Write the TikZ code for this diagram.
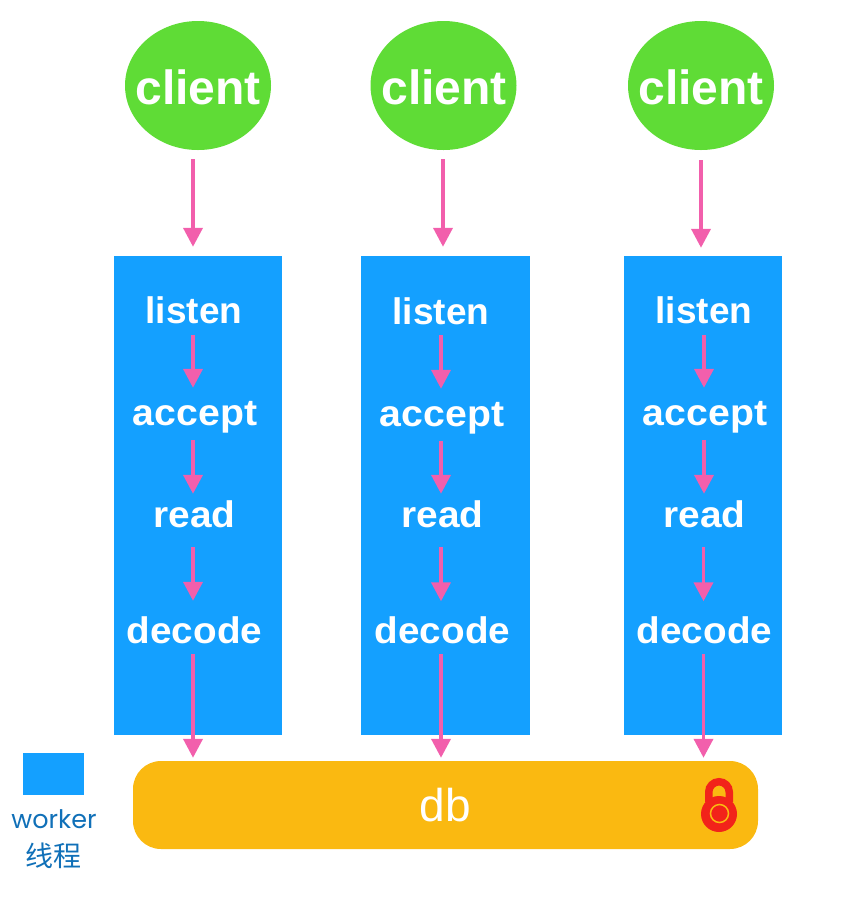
\documentclass[tikz,border=0pt]{standalone}
\usepackage{fontspec}
\setmainfont{Liberation Sans}
\newfontfamily\cjkfont{Noto Sans CJK SC}
\newfontfamily\legendfont{Poppins}
\usetikzlibrary{arrows.meta,shapes.geometric}
\definecolor{blockblue}{HTML}{14A0FF}
\definecolor{clientgreen}{HTML}{5FDC36}
\definecolor{flowpink}{HTML}{F25FAC}
\definecolor{dborange}{HTML}{FAB911}
\definecolor{lockred}{HTML}{F2231A}
\definecolor{labelblue}{HTML}{1070B8}
\tikzset{
  clientnode/.style={ellipse,fill=clientgreen,draw=none,inner sep=0pt,minimum width=146pt,minimum height=129pt},
  clienttext/.style={inner sep=0pt,text=white,font=\fontsize{48}{48}\selectfont\bfseries},
  blocknode/.style={rectangle,fill=blockblue,draw=none,inner sep=0pt},
  word/.style={inner sep=0pt,text=white,text height=28pt,text depth=2pt,font=\fontsize{37}{37}\selectfont\bfseries},
  dbnode/.style={rectangle,rounded corners=28pt,fill=dborange,draw=none,inner sep=0pt,minimum width=625pt,minimum height=88pt,text=white,font=\fontsize{46}{46}\selectfont},
  flow/.style={draw=flowpink,line width=3.8pt,-{Triangle[width=19pt,length=19pt,fill=flowpink]}},
  legendtext/.style={inner sep=0pt,text=labelblue},
}
\newcommand{\wide}[2]{\hspace*{2pt}\scalebox{#1}[1]{#2}}
\begin{document}
\begin{tikzpicture}[x=1pt,y=-1pt]
\useasboundingbox (0,0) rectangle (867,906);
% clients
\node[clientnode] (c1) at (198,85.5) {};
\node[clientnode] (c2) at (443.5,85.5) {};
\node[clientnode] (c3) at (701,85.5) {};
\node[clienttext] (ct1) at (198,87) {client};
\node[clienttext] (ct2) at (444,87) {client};
\node[clienttext] (ct3) at (701,87) {client};
% worker blocks
\node[blocknode,minimum width=168pt,minimum height=479pt] (b1) at (198,495.5) {};
\node[blocknode,minimum width=169pt,minimum height=479pt] (b2) at (445.5,495.5) {};
\node[blocknode,minimum width=158pt,minimum height=479pt] (b3) at (703,495.5) {};
% db
\node[dbnode] (db) at (445.5,805) {db};
% words
\node[word] (l1) at (194,310) {listen};
\node[word] (a1) at (194,412) {\wide{1.06}{accept}};
\node[word] (r1) at (193.5,514) {\wide{1.05}{read}};
\node[word] (d1) at (193.5,630) {\wide{1.045}{decode}};
\node[word] (l2) at (441,311) {listen};
\node[word] (a2) at (441,413) {\wide{1.06}{accept}};
\node[word] (r2) at (441.5,514) {\wide{1.05}{read}};
\node[word] (d2) at (441.5,630.5) {\wide{1.045}{decode}};
\node[word] (l3) at (704,310) {listen};
\node[word] (a3) at (704,412) {\wide{1.06}{accept}};
\node[word] (r3) at (703.5,514) {\wide{1.05}{read}};
\node[word] (d3) at (703.5,630.5) {\wide{1.045}{decode}};
% client arrows
\draw[flow,shorten <=9pt,shorten >=9pt] ([xshift=-5pt]c1.south) -- ([xshift=-5pt]c1.south |- b1.north);
\draw[flow,shorten <=9pt,shorten >=9pt] ([xshift=-0.5pt]c2.south) -- ([xshift=-0.5pt]c2.south |- b2.north);
\draw[flow,shorten <=10pt,shorten >=8pt] (c3.south) -- (c3.south |- b3.north);
% inner arrows
\draw[flow,shorten <=10pt,shorten >=9pt] ([xshift=-1pt]l1.south) -- ([xshift=-1pt]a1.north);
\draw[flow,shorten <=13pt,shorten >=5pt] ([xshift=-1pt]a1.south) -- ([xshift=-0.5pt]r1.north);
\draw[flow,shorten <=18pt,shorten >=14pt] ([xshift=-0.5pt]r1.south) -- ([xshift=-0.5pt]d1.north);
\draw[flow,shorten <=9pt,shorten >=3pt] ([xshift=-0.5pt]d1.south) -- ([xshift=-0.5pt]d1.south |- db.north);
\draw[flow,shorten <=9pt,shorten >=9pt] (l2.south) -- (a2.north);
\draw[flow,shorten <=13pt,shorten >=5pt] (a2.south) -- ([xshift=-0.5pt]r2.north);
\draw[flow,shorten <=18pt,shorten >=14pt] ([xshift=-0.5pt]r2.south) -- ([xshift=-0.5pt]d2.north);
\draw[flow,shorten <=8.5pt,shorten >=3pt] ([xshift=-0.5pt]d2.south) -- ([xshift=-0.5pt]d2.south |- db.north);
\draw[flow,shorten <=10pt,shorten >=9pt] (l3.south) -- (a3.north);
\draw[flow,shorten <=13pt,shorten >=5pt] (a3.south) -- ([xshift=0.5pt]r3.north);
\draw[flow,shorten <=18pt,shorten >=14pt] (r3.south) -- (d3.north);
\draw[flow,shorten <=8.5pt,shorten >=3pt] (d3.south) -- (d3.south |- db.north);
% legend
\node[blocknode,minimum width=61pt,minimum height=42pt] (legend) at (53.5,774) {};
\node[legendtext,font=\fontsize{25.5}{26}\legendfont] (wk) at (54,819) {worker};
\node[legendtext,font=\fontsize{28}{28}\cjkfont] (xc) at (53,856) {线程};
% lock
\draw[lockred,line width=7.5pt] (708.75,802) -- (708.75,792) arc[start angle=180,end angle=0,x radius=10.25pt,y radius=10.25pt] -- (729.25,802);
\fill[lockred] (719,814) circle[radius=18pt];
\draw[dborange,line width=1.5pt] (719.5,813.5) circle[radius=9pt];
\end{tikzpicture}
\end{document}
